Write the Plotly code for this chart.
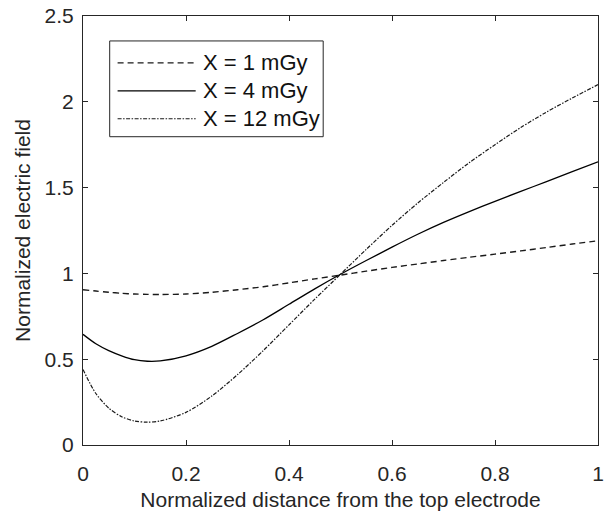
import plotly.graph_objects as go

x_values = [0, 0.025, 0.05, 0.075, 0.1, 0.125, 0.15, 0.2, 0.25, 0.3, 0.35, 0.4, 0.45,
            0.5, 0.55, 0.6, 0.65, 0.7, 0.75, 0.8, 0.85, 0.9, 0.95, 1.0]
field_1mGy = [0.905, 0.897, 0.89, 0.884, 0.88, 0.878, 0.877, 0.88, 0.89, 0.905, 0.922, 0.945, 0.968,
              0.99, 1.013, 1.035, 1.055, 1.075, 1.094, 1.112, 1.131, 1.151, 1.171, 1.19]
field_4mGy = [0.645, 0.59, 0.55, 0.52, 0.497, 0.488, 0.49, 0.52, 0.575, 0.65, 0.73, 0.82, 0.91,
              0.995, 1.075, 1.153, 1.228, 1.297, 1.36, 1.42, 1.478, 1.535, 1.593, 1.65]
field_12mGy = [0.44, 0.3, 0.215, 0.165, 0.14, 0.133, 0.14, 0.19, 0.285, 0.41, 0.55, 0.7, 0.85,
               0.995, 1.14, 1.28, 1.41, 1.53, 1.645, 1.75, 1.85, 1.94, 2.022, 2.1]
series_names = ["X = 1 mGy", "X = 4 mGy", "X = 12 mGy"]
x_ticks = [0, 0.2, 0.4, 0.6, 0.8, 1]
x_tick_labels = ["0", "0.2", "0.4", "0.6", "0.8", "1"]
y_ticks = [0, 0.5, 1, 1.5, 2, 2.5]
y_tick_labels = ["0", "0.5", "1", "1.5", "2", "2.5"]

FONT = "Liberation Sans, Arial, sans-serif"
AX = "#262626"
FS = 21
styles = [
    dict(color="#1a1a1a", width=1.4, dash="6px,4px"),
    dict(color="#000000", width=1.3, dash="solid"),
    dict(color="#1a1a1a", width=1.2, dash="4px,1.5px,1.5px,1.5px"),
]

fig = go.Figure()
for name, ys, st in zip(series_names, [field_1mGy, field_4mGy, field_12mGy], styles):
    fig.add_trace(go.Scatter(x=x_values, y=ys, mode="lines", name=name,
                             line=dict(shape="spline", smoothing=0.8, **st),
                             showlegend=False))

W, H = 608, 516
ml, mr, mt, mb = 83, 4, 15, 71
pw, ph = W - ml - mr, H - mt - mb

def px_to_paper(xp, yp):
    return (xp - ml) / pw, 1 - (yp - mt) / ph

shapes = []
annotations = []
# legend box
x0, y0 = px_to_paper(110, 40)
x1, y1 = px_to_paper(326, 136)
shapes.append(dict(type="rect", xref="paper", yref="paper", x0=x0, y0=y1, x1=x1, y1=y0,
                   line=dict(color=AX, width=1), fillcolor="white", layer="above"))
rows = [62, 90, 118]
for name, st, ry in zip(series_names, styles, rows):
    lx0, ly = px_to_paper(118, ry)
    lx1, _ = px_to_paper(197, ry)
    shapes.append(dict(type="line", xref="paper", yref="paper", x0=lx0, x1=lx1, y0=ly, y1=ly,
                       line=dict(color=st["color"], width=st["width"], dash=st["dash"]), layer="above"))
    tx, _ = px_to_paper(204, ry)
    annotations.append(dict(xref="paper", yref="paper", x=tx, y=ly, text=name, showarrow=False,
                            xanchor="left", yanchor="middle", xshift=-2,
                            font=dict(family=FONT, size=22, color="#111111")))

axis_common = dict(showline=True, linecolor=AX, linewidth=1, mirror="allticks", ticks="inside",
                   ticklen=5, tickcolor=AX, showgrid=False, zeroline=False,
                   ticklabeloverflow="allow",
                   tickfont=dict(family=FONT, size=FS, color=AX))

fig.update_layout(
    width=W, height=H, margin=dict(l=ml, r=mr, t=mt, b=mb),
    plot_bgcolor="white", paper_bgcolor="white",
    xaxis=dict(range=[0, 1], tickvals=x_ticks, ticktext=x_tick_labels, ticklabelstandoff=10,
               title=dict(text="Normalized distance from the top electrode",
                          font=dict(family=FONT, size=FS, color=AX), standoff=8),
               **axis_common),
    yaxis=dict(range=[0, 2.5], tickvals=y_ticks, ticktext=y_tick_labels, ticklabelstandoff=4,
               title=dict(text="Normalized electric field",
                          font=dict(family=FONT, size=FS, color=AX), standoff=8),
               **axis_common),
    shapes=shapes, annotations=annotations,
)
fig.write_html("out.html")
